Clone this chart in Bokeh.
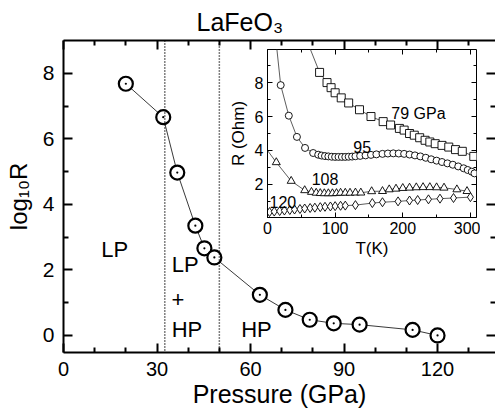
from bokeh.plotting import figure
from bokeh.models import Range1d, FixedTicker, LinearAxis, Span, Label
from bokeh.embed import file_html
from bokeh.resources import INLINE

# ---- main panel: log10 R versus pressure ----
pressure = [20, 32, 36.5, 42.3, 45.2, 48.4, 63, 71.2, 79, 86.7, 95, 112, 120]
log_r = [7.68, 6.66, 4.97, 3.35, 2.66, 2.38, 1.24, 0.78, 0.48, 0.37, 0.33, 0.17, 0.0]
phase_bounds = [32.5, 50]
x_major = [0, 30, 60, 90, 120]
x_minor = [10, 20, 40, 50, 70, 80, 100, 110, 130]
y_major = [0, 2, 4, 6, 8]
y_minor = [1, 3, 5, 7]

# ---- inset: R(T) at four pressures ----
t_79 = [77, 88, 94, 100, 109, 120, 136, 153, 171, 182, 195, 202, 210, 217, 225,
        233, 240, 248, 258, 268, 278, 288, 305]
r_79 = [8.6, 8.0, 7.7, 7.4, 7.1, 6.8, 6.4, 6.0, 5.7, 5.5, 5.3, 5.2, 5.0, 4.9, 4.75,
        4.6, 4.5, 4.4, 4.3, 4.2, 4.05, 3.95, 3.65]
t_79_line = [60] + t_79
r_79_line = [10.3] + r_79

t_95 = [19.5, 31.5, 43.5, 55.5, 67.5, 75, 80, 85, 90, 95, 100, 105, 110, 115, 120,
        125, 130, 137, 145, 153, 161, 170, 178, 186, 194, 202, 210, 218, 226, 234,
        242, 250, 258, 266, 274, 282, 290, 296, 302, 306]
r_95 = [7.85, 6.05, 4.8, 4.15, 3.85, 3.75, 3.7, 3.67, 3.65, 3.63, 3.62, 3.62, 3.62,
        3.62, 3.63, 3.64, 3.66, 3.68, 3.71, 3.74, 3.77, 3.8, 3.82, 3.83, 3.82, 3.8,
        3.76, 3.71, 3.65, 3.57, 3.48, 3.4, 3.32, 3.24, 3.16, 3.06, 2.95, 2.85, 2.75, 2.65]
t_95_line = [13] + t_95
r_95_line = [10.3] + r_95

t_108 = [13, 35, 55, 65, 72, 78, 84, 90, 96, 102, 108, 115, 122, 130, 138, 154, 170,
         180, 190, 200, 210, 220, 230, 240, 250, 261, 280, 295]
r_108 = [3.3, 2.2, 1.65, 1.55, 1.5, 1.48, 1.47, 1.47, 1.47, 1.48, 1.5, 1.5, 1.5, 1.51,
         1.51, 1.59, 1.6, 1.7, 1.74, 1.78, 1.8, 1.82, 1.83, 1.83, 1.82, 1.8, 1.7, 1.6]
t_108_line = [0] + t_108
r_108_line = [4.0] + r_108

t_120 = [3, 10, 18, 25, 33, 40, 48, 55, 63, 70, 78, 85, 93, 100, 108, 115, 130, 155,
         170, 193, 210, 222, 238, 255, 275, 300]
r_120 = [0.37, 0.4, 0.43, 0.46, 0.49, 0.52, 0.55, 0.58, 0.61, 0.63, 0.66, 0.68, 0.7,
         0.72, 0.74, 0.75, 0.78, 0.9, 0.95, 1.0, 1.05, 1.08, 1.12, 1.16, 1.2, 1.25]
t_120_line = [0] + t_120
r_120_line = [0.35] + r_120

inset_x_major = [0, 100, 200, 300]
inset_x_minor = [50, 150, 250]
inset_y_major = [2, 4, 6, 8]
inset_y_minor = [1, 3, 5, 7, 9]

FONT = "Liberation Sans"


def style_axis(ax, major_in, minor_in, width, labels=True, line=True):
    ax.major_tick_in = major_in
    ax.major_tick_out = 0
    ax.minor_tick_in = minor_in
    ax.minor_tick_out = 0
    ax.major_tick_line_width = width
    ax.minor_tick_line_width = width
    ax.axis_line_width = width
    ax.major_tick_line_color = "black"
    ax.minor_tick_line_color = "black"
    ax.axis_line_color = "black" if line else None
    ax.major_label_text_font = FONT
    ax.major_label_text_color = "black"
    ax.axis_label_text_font = FONT
    ax.axis_label_text_font_style = "normal"
    ax.axis_label_text_color = "black"
    if not labels:
        # mirror axis: ticks only
        ax.major_label_text_font_size = "0px"
        ax.major_label_text_color = None
        ax.major_label_standoff = 0


p = figure(width=495, height=414, x_range=Range1d(0, 138.6), y_range=Range1d(-0.52, 9.0),
           output_backend="svg", toolbar_location=None,
           min_border_left=63, min_border_right=0, min_border_top=40, min_border_bottom=62,
           title="LaFeO₃")
p.outline_line_color = None
p.grid.visible = False
p.background_fill_color = "white"
p.border_fill_color = "white"

p.title.text_font = FONT
p.title.text_font_size = "25px"
p.title.text_font_style = "normal"
p.title.text_color = "black"
p.title.align = "left"
p.title.offset = 133

xt = FixedTicker(ticks=x_major, minor_ticks=x_minor)
yt = FixedTicker(ticks=y_major, minor_ticks=y_minor)

p.xaxis.ticker = xt
p.yaxis.ticker = yt
style_axis(p.xaxis[0], 9, 5, 2)
style_axis(p.yaxis[0], 9, 5, 2)
p.xaxis.axis_label = "Pressure (GPa)"
p.yaxis.axis_label = "log₁₀R"
p.xaxis.major_label_text_font_size = "20px"
p.yaxis.major_label_text_font_size = "21px"
p.xaxis.axis_label_text_font_size = "25px"
p.yaxis.axis_label_text_font_size = "24px"
p.xaxis.major_label_standoff = 9
p.yaxis.major_label_standoff = 9
p.xaxis.axis_label_standoff = 1
p.yaxis.axis_label_standoff = 8

top_ax = LinearAxis(ticker=xt)
style_axis(top_ax, 9, 5, 2, labels=False)
p.add_layout(top_ax, "above")
right_ax = LinearAxis(ticker=yt)
style_axis(right_ax, 9, 5, 2, labels=False, line=False)
p.add_layout(right_ax, "right")

for b in phase_bounds:
    p.add_layout(Span(location=b, dimension="height", line_color="black",
                      line_width=1.5, line_dash="1 2"))

p.line(pressure, log_r, line_color="#222222", line_width=0.9)
p.scatter(pressure, log_r, marker="circle", size=14, line_width=2.2,
          line_color="black", fill_color="white")
p.scatter(pressure, log_r, marker="circle", size=2.2, line_color=None,
          fill_color="black")

region_labels = [("LP", 16.4, 2.62, "center"), ("LP", 34.7, 2.17, "left"),
                 ("+", 36.7, 1.1, "center"), ("HP", 34.7, 0.17, "left"),
                 ("HP", 57.0, 0.17, "left")]
for txt, x, y, al in region_labels:
    p.add_layout(Label(x=x, y=y, text=txt, text_align=al, text_baseline="middle",
                       text_font=FONT, text_font_size="22px", text_color="black"))

# ---- inset figure ----
ins = figure(width=268, height=217, x_range=Range1d(0, 309), y_range=Range1d(0.05, 9.95),
             output_backend="svg", toolbar_location=None,
             min_border_left=55, min_border_right=4, min_border_top=4, min_border_bottom=45,
             styles={"position": "absolute", "left": "212px", "top": "45px"})
ins.grid.visible = False
ins.border_fill_color = None
ins.background_fill_color = "white"
ins.outline_line_color = "black"
ins.outline_line_width = 1

ixt = FixedTicker(ticks=inset_x_major, minor_ticks=inset_x_minor)
iyt = FixedTicker(ticks=inset_y_major, minor_ticks=inset_y_minor)
ins.xaxis.ticker = ixt
ins.yaxis.ticker = iyt
style_axis(ins.xaxis[0], 5, 3, 1)
style_axis(ins.yaxis[0], 5, 3, 1)
ins.xaxis.axis_label = "T(K)"
ins.yaxis.axis_label = "R (Ohm)"
ins.xaxis.major_label_text_font_size = "16px"
ins.yaxis.major_label_text_font_size = "16px"
ins.xaxis.axis_label_text_font_size = "17px"
ins.yaxis.axis_label_text_font_size = "17px"
ins.xaxis.major_label_standoff = 4
ins.yaxis.major_label_standoff = 4
ins.xaxis.axis_label_standoff = 2
ins.yaxis.axis_label_standoff = 4

itop = LinearAxis(ticker=ixt)
style_axis(itop, 5, 3, 1, labels=False, line=False)
ins.add_layout(itop, "above")
iright = LinearAxis(ticker=iyt)
style_axis(iright, 5, 3, 1, labels=False, line=False)
ins.add_layout(iright, "right")

LINE_C = "#333333"
series = [
    (t_79_line, r_79_line, t_79, r_79, "square", 8),
    (t_95_line, r_95_line, t_95, r_95, "circle", 7),
    (t_108_line, r_108_line, t_108, r_108, "triangle", 8),
    (t_120_line, r_120_line, t_120, r_120, "diamond", 9),
]
for tl, rl, tm, rm, mk, sz in series:
    ins.line(tl, rl, line_color=LINE_C, line_width=0.8)
    ins.scatter(tm, rm, marker=mk, size=sz, line_color="black", line_width=0.9,
                fill_color="white")

inset_labels = [("79 GPa", 183, 6.2, "left"), ("95", 140, 4.2, "center"),
                ("108", 85, 2.3, "center"), ("120", 3, 0.95, "left")]
for txt, x, y, al in inset_labels:
    ins.add_layout(Label(x=x, y=y, text=txt, text_align=al, text_baseline="middle",
                         text_font=FONT, text_font_size="16px", text_color="black"))

open("out.html", "w").write(file_html([p, ins], INLINE))
